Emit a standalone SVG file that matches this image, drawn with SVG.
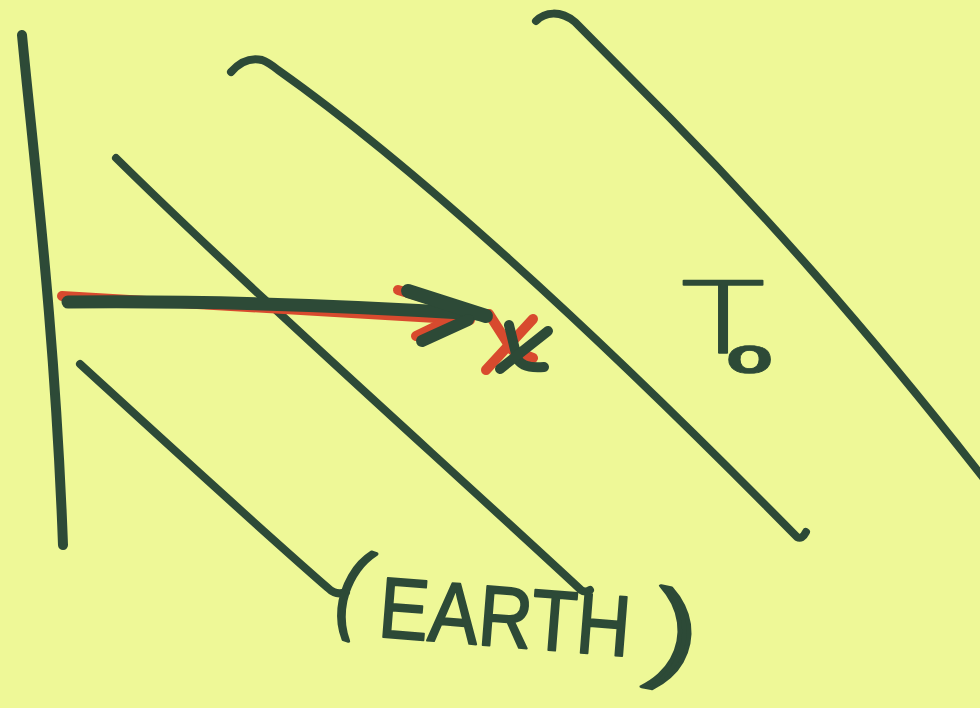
<svg xmlns="http://www.w3.org/2000/svg" width="980" height="708" viewBox="0 0 980 708">
  <style>
    .ink { fill: none; stroke: #2d4a37; stroke-linecap: round; stroke-linejoin: round; }
    .red { fill: none; stroke: #d84a2e; stroke-linecap: round; stroke-linejoin: round; }
    .txt { fill: #2d4a37; stroke: #2d4a37; stroke-linejoin: round; font-family: "Liberation Sans", Arial, sans-serif; }
    .thin { font-family: "Open Sans", "Liberation Sans", sans-serif; font-weight: 300; }
    .bold { font-family: "Liberation Sans", Arial, sans-serif; font-weight: bold; }
  </style>
  <rect width="980" height="708" fill="#eef897"/>

  <g id="boundary">
    <path class="ink" stroke-width="10" d="M22,35 C35,170 55,330 63,545"/>
  </g>

  <g id="wavefronts">
    <path id="front-1" class="ink" stroke-width="8" d="M80,364 C150,428 250,520 328,588 Q336,596 346,592"/>
    <path id="front-2" class="ink" stroke-width="8" d="M116,158 C250,290 430,450 581,590 Q585,593 590,590"/>
    <path id="front-3" class="ink" stroke-width="8" d="M231,72 Q245,56 262,60 Q268,62 278,70 Q472,207 797,537 Q802,540 806,532"/>
    <path id="front-4" class="ink" stroke-width="8" d="M536,21 C545,12 560,10 575,22 L670,118 C760,210 860,320 985,480"/>
  </g>

  <g id="connectors">
    <g id="arrow-red">
      <path class="red" stroke-width="10" d="M62,296 Q260,307 470,320"/>
      <path class="red" stroke-width="10" d="M398,290 L478,314"/>
      <path class="red" stroke-width="10" d="M416,336 L445,322"/>
      <path class="red" stroke-width="10" d="M489,314 L512,350 L533,358"/>
      <path class="red" stroke-width="10" d="M533,319 L486,370"/>
    </g>
    <g id="arrow-ink">
      <path class="ink" stroke-width="13" d="M68,302 Q260,300 480,314"/>
      <path class="ink" stroke-width="14" d="M408,291 L486,316"/>
      <path class="ink" stroke-width="12" d="M422,341 L468,320"/>
    </g>
    <g id="x-mark">
      <path class="ink" stroke-width="10" d="M509,325 L517,358 Q522,369 544,367"/>
      <path class="ink" stroke-width="10" d="M548,331 L500,369"/>
    </g>
  </g>

  <g id="label-t0">
    <text class="txt thin" stroke-width="1.5" font-size="102" x="0" y="0" transform="translate(683,353) scale(1.5,1)">T<tspan class="bold" font-size="52" stroke-width="0.7" dx="-25" dy="20">o</tspan></text>
  </g>

  <g id="label-earth">
    <text class="txt thin" stroke-width="3.5" font-size="105" x="337" y="626" transform="rotate(18 360 599)">(</text>
    <text class="txt" stroke-width="2" font-size="86" x="377" y="637" textLength="252" lengthAdjust="spacingAndGlyphs" transform="rotate(4.5 382 637)">EARTH</text>
    <text class="txt thin" stroke-width="3" font-size="118" x="-20" y="30" transform="translate(676,644) rotate(11) scale(1.6,1)">)</text>
  </g>
</svg>
